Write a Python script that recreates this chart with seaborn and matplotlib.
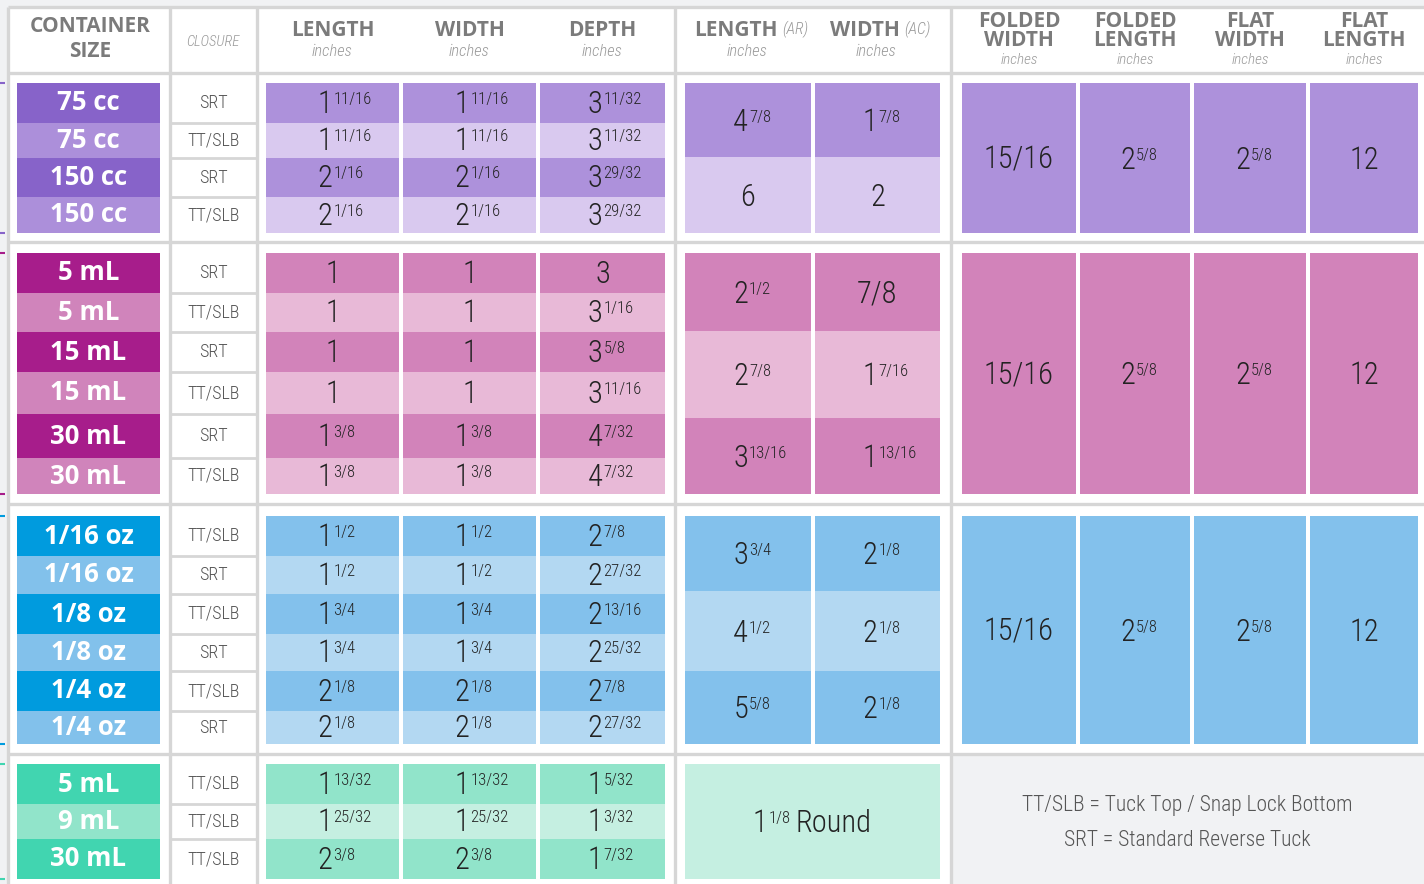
import matplotlib
matplotlib.use("Agg")
import matplotlib.pyplot as plt
import seaborn as sns

# ---------------- data ----------------
dim_headers = ["LENGTH", "WIDTH", "DEPTH"]
ar_headers = [("LENGTH", "(AR)"), ("WIDTH", "(AC)")]
fold_headers = ["FOLDED\nWIDTH", "FOLDED\nLENGTH", "FLAT\nWIDTH", "FLAT\nLENGTH"]
unit_label = "inches"
legend_lines = ["TT/SLB = Tuck Top / Snap Lock Bottom", "SRT = Standard Reverse Tuck"]

sizes_purple = ["75 cc", "75 cc", "150 cc", "150 cc"]
closure_purple = ["SRT", "TT/SLB", "SRT", "TT/SLB"]
length_purple = ["1 11/16", "1 11/16", "2 1/16", "2 1/16"]
width_purple = ["1 11/16", "1 11/16", "2 1/16", "2 1/16"]
depth_purple = ["3 11/32", "3 11/32", "3 29/32", "3 29/32"]
ar_purple = ["4 7/8", "6"]
ac_purple = ["1 7/8", "2"]

sizes_pink = ["5 mL", "5 mL", "15 mL", "15 mL", "30 mL", "30 mL"]
closure_pink = ["SRT", "TT/SLB", "SRT", "TT/SLB", "SRT", "TT/SLB"]
length_pink = ["1", "1", "1", "1", "1 3/8", "1 3/8"]
width_pink = ["1", "1", "1", "1", "1 3/8", "1 3/8"]
depth_pink = ["3", "3 1/16", "3 5/8", "3 11/16", "4 7/32", "4 7/32"]
ar_pink = ["2 1/2", "2 7/8", "3 13/16"]
ac_pink = ["7/8", "1 7/16", "1 13/16"]

sizes_blue = ["1/16 oz", "1/16 oz", "1/8 oz", "1/8 oz", "1/4 oz", "1/4 oz"]
closure_blue = ["TT/SLB", "SRT", "TT/SLB", "SRT", "TT/SLB", "SRT"]
length_blue = ["1 1/2", "1 1/2", "1 3/4", "1 3/4", "2 1/8", "2 1/8"]
width_blue = ["1 1/2", "1 1/2", "1 3/4", "1 3/4", "2 1/8", "2 1/8"]
depth_blue = ["2 7/8", "2 27/32", "2 13/16", "2 25/32", "2 7/8", "2 27/32"]
ar_blue = ["3 3/4", "4 1/2", "5 5/8"]
ac_blue = ["2 1/8", "2 1/8", "2 1/8"]

sizes_green = ["5 mL", "9 mL", "30 mL"]
closure_green = ["TT/SLB", "TT/SLB", "TT/SLB"]
length_green = ["1 13/32", "1 25/32", "2 3/8"]
width_green = ["1 13/32", "1 25/32", "2 3/8"]
depth_green = ["1 5/32", "1 3/32", "1 7/32"]
round_green = "1 1/8 Round"

folded_values = ["15/16", "2 5/8", "2 5/8", "12"]

# ---------------- style ----------------
palette = {
    "purple": dict(cont=("#8763c9", "#ac8fda"), cell=("#ad91db", "#d9c9ef")),
    "pink": dict(cont=("#a71d8b", "#d084bb"), cell=("#d283ba", "#e8b9d7")),
    "blue": dict(cont=("#009bde", "#82c1eb"), cell=("#83c1ec", "#b3d8f2")),
    "green": dict(cont=("#41d5b0", "#91e4ca"), cell=("#91e4ca", "#c5efe1")),
}
BG = "#f1f2f4"
GRID = "#d6d6d6"
HEAD_C = "#7b7b7b"
SUB_C = "#9a9a9a"
NUM_C = "#232323"
CLOS_C = "#555555"

sns.set_theme(style="white")
NARROW = ["Liberation Sans Narrow", "Roboto Condensed", "Open Sans Condensed", "Roboto", "DejaVu Sans"]
BOLD = ["Open Sans", "DejaVu Sans"]
plt.rcParams["font.family"] = NARROW

# ---------------- layout (pixels) ----------------
W, H = 1424, 884
cont_x = (17, 160)
clos_x = (170, 257)
dim_x = [(266, 399), (403, 536), (540, 665)]
ar_x = [(685, 811), (815, 940)]
fold_x = [(962, 1076), (1080, 1190), (1194, 1306), (1310, 1418)]
vlines = [8, 170, 257, 675, 951]
hlines = [7, 73, 242, 504, 754]

groups = [
    dict(key="purple", rows=[83, 123, 158, 197, 233], ar_rows=[83, 157, 233],
         sizes=sizes_purple, closure=closure_purple,
         dims=[length_purple, width_purple, depth_purple], ar=[ar_purple, ac_purple],
         folded=folded_values),
    dict(key="pink", rows=[253, 293, 332, 372, 414, 458, 494], ar_rows=[253, 331, 418, 494],
         sizes=sizes_pink, closure=closure_pink,
         dims=[length_pink, width_pink, depth_pink], ar=[ar_pink, ac_pink],
         folded=folded_values),
    dict(key="blue", rows=[516, 556, 594, 634, 671, 711, 744], ar_rows=[516, 591, 671, 744],
         sizes=sizes_blue, closure=closure_blue,
         dims=[length_blue, width_blue, depth_blue], ar=[ar_blue, ac_blue],
         folded=folded_values),
    dict(key="green", rows=[764, 804, 839, 879], ar_rows=[764, 879],
         sizes=sizes_green, closure=closure_green,
         dims=[length_green, width_green, depth_green], ar=None, round=round_green,
         folded=None),
]

fig = plt.figure(figsize=(W / 100, H / 100), dpi=100, facecolor=BG)
ax = fig.add_axes([0, 0, 1, 1])
ax.set_xlim(0, W)
ax.set_ylim(H, 0)
ax.axis("off")
renderer = fig.canvas.get_renderer()

BIG, SMALL = 22, 12
px = 100 / 72.0
BIG_DH = 0.71 * BIG * px
SMALL_DH = 0.71 * SMALL * px
NUM_KW = dict(color=NUM_C, fontweight="light")


def rect(x0, x1, y0, y1, color):
    ax.bar(x0, y1 - y0, width=x1 - x0, bottom=y0, align="edge", color=color, linewidth=0)


def number(cx, cy, value):
    parts = value.split(" ", 1)
    base = cy + BIG_DH / 2
    if len(parts) == 1:
        ax.text(cx, base, value, ha="center", va="baseline", fontsize=BIG, **NUM_KW)
        return
    whole, frac = parts
    ax.text(cx, base, whole, ha="right", va="baseline", fontsize=BIG, **NUM_KW)
    ax.text(cx + 1, cy - BIG_DH / 2 + 1 + SMALL_DH, frac, ha="left", va="baseline",
            fontsize=SMALL, **NUM_KW)


def width_of(t):
    return t.get_window_extent(renderer).width


# table body
rect(vlines[0], W, hlines[0], H, "white")
rect(vlines[-1], W, hlines[-1], H, BG)

# headers
ax.text(sum(cont_x) / 2 + 2, 39, "CONTAINER\nSIZE", ha="center", va="center", fontsize=15,
        fontweight="bold", family=BOLD, color=HEAD_C, linespacing=1.25)
ax.text(sum(clos_x) / 2 - 1, 42, "CLOSURE", ha="center", va="center", fontsize=10.5,
        style="italic", fontweight="light", color=SUB_C)
for (x0, x1), lab in zip(dim_x, dim_headers):
    ax.text((x0 + x1) / 2, 30, lab, ha="center", va="center", fontsize=15,
            fontweight="bold", family=BOLD, color=HEAD_C)
    ax.text((x0 + x1) / 2, 52, unit_label, ha="center", va="center", fontsize=12,
            style="italic", fontweight="light", color=SUB_C)
for (x0, x1), (lab, tag) in zip(ar_x, ar_headers):
    cx = (x0 + x1) / 2 + 3
    t1 = ax.text(0, 30, lab, ha="left", va="center", fontsize=15, fontweight="bold",
                 family=BOLD, color=HEAD_C)
    t2 = ax.text(0, 29, tag, ha="left", va="center", fontsize=11.5, style="italic",
                 fontweight="light", color=SUB_C)
    w1, w2 = width_of(t1), width_of(t2)
    start = cx - (w1 + 4 + w2) / 2
    t1.set_x(start)
    t2.set_x(start + w1 + 4)
    ax.text(cx - 4, 52, unit_label, ha="center", va="center", fontsize=12,
            style="italic", fontweight="light", color=SUB_C)
for (x0, x1), lab in zip(fold_x, fold_headers):
    cx = (x0 + x1) / 2
    ax.text(cx, 31, lab, ha="center", va="center", fontsize=15, fontweight="bold",
            family=BOLD, color=HEAD_C, linespacing=0.82)
    ax.text(cx, 60, unit_label, ha="center", va="center", fontsize=11,
            style="italic", fontweight="light", color=SUB_C)

# groups
for g in groups:
    pal = palette[g["key"]]
    rows = g["rows"]
    for i in range(len(g["sizes"])):
        y0, y1 = rows[i], rows[i + 1]
        cy = (y0 + y1) / 2
        rect(cont_x[0], cont_x[1], y0, y1, pal["cont"][i % 2])
        ax.text(sum(cont_x) / 2, cy, g["sizes"][i], ha="center", va="center",
                fontsize=18.5, fontweight="bold", family=BOLD, color="white")
        ax.text(sum(clos_x) / 2, cy, g["closure"][i], ha="center", va="center",
                fontsize=13, fontweight="light", color=CLOS_C)
        if i > 0:
            ax.hlines(y0, clos_x[0], clos_x[1], color=GRID, lw=2)
        for (x0, x1), col in zip(dim_x, g["dims"]):
            rect(x0, x1, y0, y1, pal["cell"][i % 2])
            number((x0 + x1) / 2, cy - 1, col[i])
    ar_rows = g["ar_rows"]
    if g["ar"] is not None:
        for (x0, x1), col in zip(ar_x, g["ar"]):
            for j, val in enumerate(col):
                y0, y1 = ar_rows[j], ar_rows[j + 1]
                rect(x0, x1, y0, y1, pal["cell"][j % 2])
                number((x0 + x1) / 2, (y0 + y1) / 2, val)
    else:
        x0, x1 = ar_x[0][0], ar_x[-1][1]
        y0, y1 = ar_rows[0], ar_rows[-1]
        rect(x0, x1, y0, y1, pal["cell"][1])
        whole, frac, word = g["round"].split(" ")
        cy = (y0 + y1) / 2
        t1 = ax.text(0, cy + BIG_DH / 2, whole, ha="left", va="baseline", fontsize=BIG, **NUM_KW)
        t2 = ax.text(0, cy - BIG_DH / 2 + 1 + SMALL_DH, frac, ha="left", va="baseline",
                     fontsize=SMALL, **NUM_KW)
        t3 = ax.text(0, cy + BIG_DH / 2, word, ha="left", va="baseline", fontsize=BIG, **NUM_KW)
        ws = [width_of(t) for t in (t1, t2, t3)]
        start = (x0 + x1) / 2 - (sum(ws) + 8) / 2
        t1.set_x(start)
        t2.set_x(start + ws[0] + 2)
        t3.set_x(start + ws[0] + ws[1] + 7)
    if g["folded"] is not None:
        y0, y1 = rows[0], rows[-1]
        for (x0, x1), val in zip(fold_x, g["folded"]):
            rect(x0, x1, y0, y1, pal["cell"][0])
            number((x0 + x1) / 2, (y0 + y1) / 2, val)
    # small group markers on the left edge
    ax.hlines([rows[0], rows[-1]], 0, 5, color=pal["cont"][0], lw=1.5)

# notes
nx = (vlines[-1] + W) / 2
ax.text(nx, 806, legend_lines[0], ha="center", va="center", fontsize=15.5,
        fontweight="light", color=CLOS_C)
ax.text(nx, 840, legend_lines[1], ha="center", va="center", fontsize=15.5,
        fontweight="light", color=CLOS_C)

# grid lines
ax.vlines(vlines, hlines[0], H, color=GRID, lw=2.4)
ax.hlines(hlines, vlines[0], W, color=GRID, lw=2.4)

fig.savefig("out.png", dpi=100, facecolor=BG)
